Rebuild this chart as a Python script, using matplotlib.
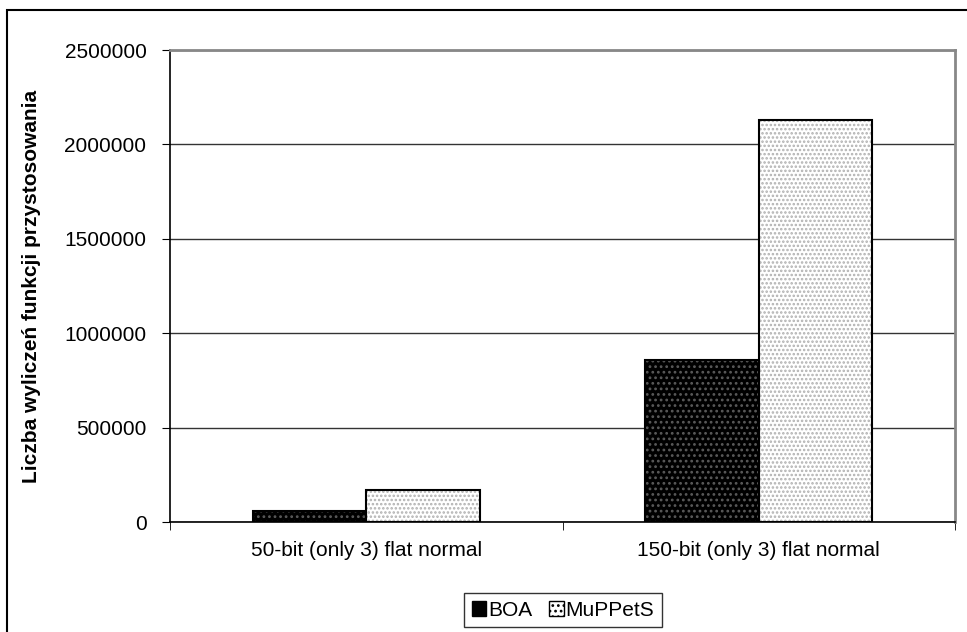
import numpy as np
import matplotlib.pyplot as plt
from matplotlib.patches import Rectangle, Patch

categories = ['50-bit (only 3) flat normal', '150-bit (only 3) flat normal']
boa = [60000, 860000]
muppets = [170000, 2130000]
yticks = [0, 500000, 1000000, 1500000, 2000000, 2500000]

plt.rcParams['font.family'] = ['Liberation Sans', 'DejaVu Sans']
plt.rcParams['hatch.linewidth'] = 1.2

fig = plt.figure(figsize=(9.67, 6.32), dpi=100)
ax = fig.add_axes([170/967, 1-522/632, 785/967, 472/632])

# outer chart frame, runs off the right and bottom edges
fig.patches.append(Rectangle((7/967, -0.1), 1.2, 1-10/632+0.1, transform=fig.transFigure,
                             fill=False, edgecolor='black', linewidth=1.5, zorder=10))

x = np.arange(len(categories))
w = 0.289

# filled + dotted pattern, then black outlines on top
ax.bar(x - w/2, boa, w, color='black', edgecolor='#5a5a5a', hatch='...', linewidth=0, zorder=2)
ax.bar(x + w/2, muppets, w, color='white', edgecolor='#b0b0b0', hatch='....', linewidth=0, zorder=2)
ax.bar(x - w/2, boa, w, fill=False, edgecolor='black', linewidth=1.5, zorder=3)
ax.bar(x + w/2, muppets, w, fill=False, edgecolor='black', linewidth=1.5, zorder=3)

ax.set_xlim(-0.5, len(categories) - 0.5)
ax.set_ylim(0, 2500000)
ax.set_yticks(yticks)
ax.set_yticklabels([str(v) for v in yticks], fontsize=15)
ax.set_xticks(x)
ax.set_xticklabels(categories, fontsize=15)
ax.set_xticks(np.arange(len(categories) + 1) - 0.5, minor=True)
ax.tick_params(axis='x', which='major', length=0, pad=14)
ax.tick_params(axis='x', which='minor', length=6, direction='out')
ax.tick_params(axis='y', length=6, direction='out', pad=11)
ax.grid(axis='y', color='#333333', linewidth=1.0, zorder=0)
ax.set_axisbelow(True)

for s in ['top', 'right']:
    ax.spines[s].set_color('#888888')
    ax.spines[s].set_linewidth(2)
ax.spines['left'].set_linewidth(1.2)
ax.spines['bottom'].set_linewidth(1.2)

ax.set_ylabel('Liczba wyliczeń funkcji przystosowania', fontsize=15, fontweight='bold')
ax.yaxis.set_label_coords((41-170)/785, 0.5)

handles = [Patch(facecolor='black', edgecolor='black', hatch='..', label='BOA'),
           Patch(facecolor='white', edgecolor='black', hatch='...', label='MuPPetS')]
leg = fig.legend(handles=handles, loc='center', bbox_to_anchor=(563/967, 1-610/632), ncol=2,
                 fontsize=15, frameon=True, fancybox=False, handlelength=0.7, handleheight=0.7,
                 handletextpad=0.1, columnspacing=0.8, borderpad=0.35)
leg.get_frame().set_edgecolor('black')
leg.get_frame().set_linewidth(1.0)

fig.savefig('out.png', dpi=100)
